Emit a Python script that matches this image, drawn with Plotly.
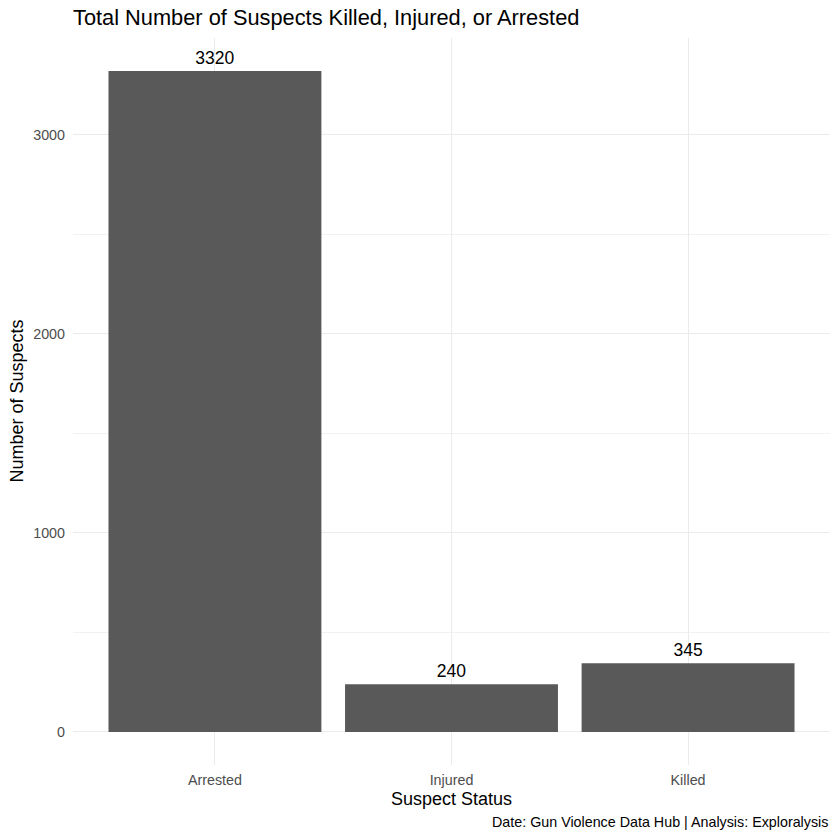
import plotly.graph_objects as go

# данные
statuses = ["Arrested", "Injured", "Killed"]
counts = [3320, 240, 345]
y_ticks = [0, 1000, 2000, 3000]
y_minor = [500, 1500, 2500]

title = "Total Number of Suspects Killed, Injured, or Arrested"
caption = "Date: Gun Violence Data Hub | Analysis: Exploralysis"

# поля панели (px)
L, R, T, B = 73, 10, 38, 75
W = H = 840

fig = go.Figure()

fig.add_trace(
    go.Bar(
        x=statuses,
        y=counts,
        marker_color='#595959',
        marker_line_width=0,
        text=[str(c) for c in counts],
        textposition='outside',
        textfont=dict(size=17.5, color='black'),
        cliponaxis=False,
        hoverinfo='skip'
    )
)

ymax = max(counts)
pad = ymax * 0.05

fig.update_yaxes(
    range=[-pad, ymax + pad],
    tickvals=y_ticks,
    ticktext=[str(t) for t in y_ticks],
    tickfont=dict(size=14.3, color='#4d4d4d'),
    showgrid=True,
    gridcolor='#ebebeb',
    gridwidth=1.4,
    minor=dict(tickvals=y_minor, showgrid=True,
               gridcolor='#f2f2f2', gridwidth=0.8),
    zeroline=False,
    showline=False,
    ticks='',
    ticklabelstandoff=7
)

fig.update_xaxes(
    range=[-0.6, 2.6],
    tickfont=dict(size=14.3, color='#4d4d4d'),
    showgrid=True,
    gridcolor='#ebebeb',
    gridwidth=1.4,
    zeroline=False,
    showline=False,
    ticks='',
    ticklabelstandoff=5
)

# подписи осей
fig.add_annotation(
    text="Suspect Status",
    xref='paper', yref='paper', x=0.5, y=0,
    xanchor='center', yanchor='middle', yshift=-34,
    showarrow=False, font=dict(size=18, color='black')
)
fig.add_annotation(
    text="Number of Suspects",
    xref='paper', yref='paper', x=0, y=0.5, textangle=-90,
    xanchor='center', yanchor='middle', xshift=-(L - 16),
    showarrow=False, font=dict(size=18, color='black')
)

# подпись источника
fig.add_annotation(
    text=caption,
    xref='paper', yref='paper',
    x=1, y=0,
    xanchor='right', yanchor='middle',
    yshift=-57,
    showarrow=False,
    font=dict(size=14.3, color='black')
)

fig.update_layout(
    title=dict(text=title, x=L / W, xanchor='left', y=1 - 17 / H,
               yanchor='middle', font=dict(size=21.8, color='black')),
    width=W,
    height=H,
    bargap=0.1,
    showlegend=False,
    plot_bgcolor='white',
    paper_bgcolor='white',
    font=dict(family='Liberation Sans, Arial, sans-serif'),
    margin=dict(t=T, b=B, l=L, r=R, autoexpand=False)
)

fig.write_html("out.html", config={'displayModeBar': False},
               post_script="document.body.style.margin='0';")
